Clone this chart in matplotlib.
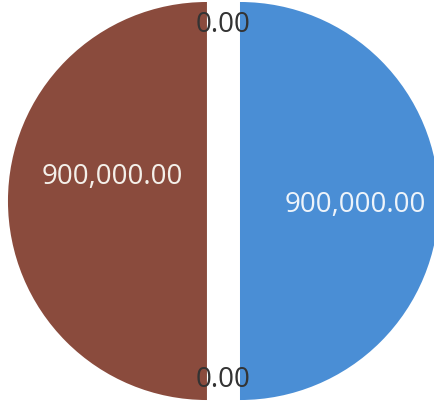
import numpy as np
import matplotlib
matplotlib.use("Agg")
import matplotlib.pyplot as plt

plt.rcParams['font.family'] = ['Open Sans', 'DejaVu Sans']

# valores de las porciones (de arriba, sentido antihorario)
values = [900000, 0, 900000, 0]
colors = ['#8a4b3d', '#ffffff', '#4a8ed5', '#ffffff']
explode = [0.083, 0, 0.083, 0]
label_colors = ['#f4f0ea', '#333333', '#eef4fa', '#333333']
# distancia y giro de cada etiqueta respecto a la porcion
label_dist = [0.49, 0.90, 0.58, 0.885]
label_turn = [-14, 0, -2, 0]

total = sum(values)

fig = plt.figure(figsize=(4.34, 4.05), dpi=100)
ax = fig.add_axes([0, 0, 1, 1])

wedges, texts, autotexts = ax.pie(
    values, colors=colors, explode=explode, startangle=90,
    counterclock=True, radius=1.0,
    autopct=lambda p: f"{p * total / 100:,.2f}",
    pctdistance=0.55, wedgeprops=dict(linewidth=0),
    textprops=dict(fontsize=20))

for w, t, d, turn, c in zip(wedges, autotexts, label_dist, label_turn,
                            label_colors):
    ang = np.deg2rad((w.theta1 + w.theta2) / 2)
    cx, cy = w.center
    a2 = ang + np.deg2rad(turn)
    t.set_position((cx + d * np.cos(a2), cy + d * np.sin(a2)))
    t.set_color(c)
    t.set_ha('center')
    t.set_va('center')

ax.set_xlim(-1.123, 1.058)
ax.set_ylim(-1.025, 1.010)
ax.set_aspect('auto')
ax.axis('off')

fig.savefig('out.png', dpi=100, facecolor='white')
